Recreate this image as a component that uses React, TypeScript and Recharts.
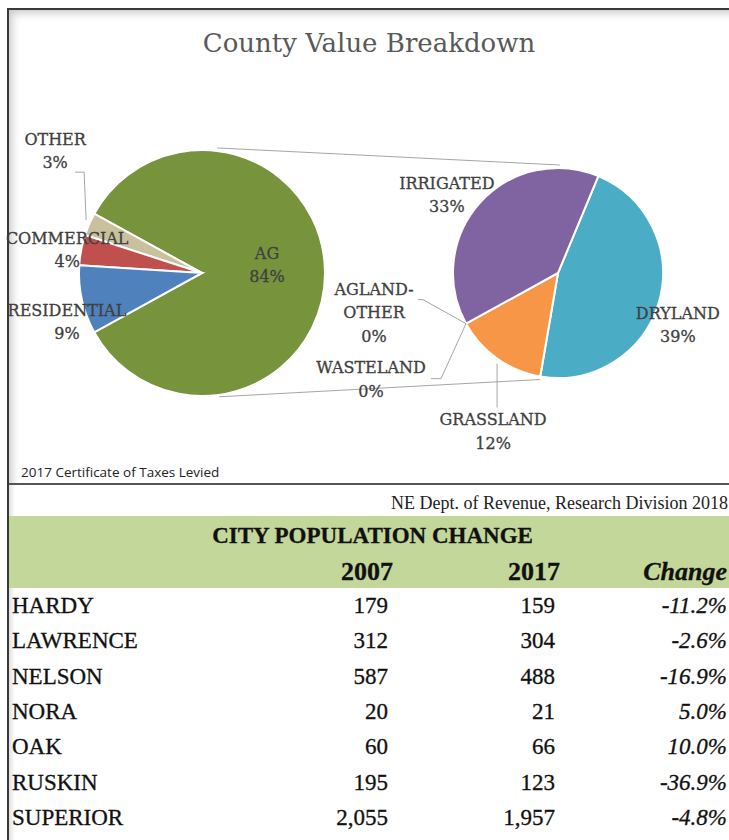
import React from "react";
import { PieChart, Pie, Cell } from "recharts";

// County value breakdown (percent of total value)
const mainNames = ["AG", "OTHER", "COMMERCIAL", "RESIDENTIAL"];
const mainValues = [84, 3, 4, 9];
const mainColors = ["#77933c", "#c9c19d", "#c0504d", "#4f81bd"];

// AG split (percent of total value)
const agNames = ["DRYLAND", "GRASSLAND", "WASTELAND", "AGLAND-OTHER", "IRRIGATED"];
const agValues = [39, 12, 0, 0, 33];
const agColors = ["#4bacc6", "#f79646", "#9bbb59", "#2c4d75", "#8064a2"];

// City population change table
const cities = ["HARDY", "LAWRENCE", "NELSON", "NORA", "OAK", "RUSKIN", "SUPERIOR"];
const pop2007 = [179, 312, 587, 20, 60, 195, 2055];
const pop2017 = [159, 304, 488, 21, 66, 123, 1957];
const changePct = [-11.2, -2.6, -16.9, 5.0, 10.0, -36.9, -4.8];

const mainData = mainNames.map((name, i) => ({ name, value: mainValues[i] }));
const agData = agNames.map((name, i) => ({ name, value: agValues[i] }));

const PIE1 = { cx: 202, cy: 273, r: 123 };
const PIE2 = { cx: 558, cy: 273, r: 105 };
const LABEL_FONT = "'DejaVu Serif', serif";
const TABLE_FONT = "'Liberation Serif', serif";
const RAD = Math.PI / 180;

// label block offset from the slice's outer mid point, plus optional leader line
const labelPlacement: Record<string, { dx: number; dy: number; leader?: number[][] }> = {
  AG: { dx: -58, dy: -8 },
  OTHER: { dx: -34, dy: -73, leader: [[-3, -4], [-5, -52], [-14, -52]] },
  COMMERCIAL: { dx: -14, dy: 0 },
  RESIDENTIAL: { dx: -15, dy: 22 },
  DRYLAND: { dx: 19, dy: 23 },
  GRASSLAND: { dx: -4, dy: 73, leader: [[0, 5], [0, 49]] },
  WASTELAND: { dx: -95, dy: 56, leader: [[0, 0], [-25, 55], [-35, 55]] },
  "AGLAND-OTHER": { dx: -92, dy: -11, leader: [[0, 0], [-43, -24], [-48, -24]] },
  IRRIGATED: { dx: -33, dy: -8 },
};

const polar = (cx: number, cy: number, r: number, angle: number) => ({
  x: cx + r * Math.cos(-angle * RAD),
  y: cy + r * Math.sin(-angle * RAD),
});

function renderLabel(props: any) {
  const { cx, cy, midAngle, outerRadius, payload, value } = props;
  const name: string = payload?.name ?? props.name;
  const place = labelPlacement[name];
  if (!place) return null;
  const p = polar(cx, cy, outerRadius, midAngle);
  const lines = name.includes("-") ? [name.split("-")[0] + "-", name.split("-")[1]] : [name];
  lines.push(`${value}%`);
  const lh = 23.5;
  const x = p.x + place.dx;
  const y0 = p.y + place.dy - ((lines.length - 1) * lh) / 2;
  return (
    <g key={`lbl-${name}`}>
      {place.leader && (
        <polyline
          points={place.leader.map(([dx, dy]) => `${p.x + dx},${p.y + dy}`).join(" ")}
          fill="none"
          stroke="#a6a6a6"
          strokeWidth={1}
        />
      )}
      <text
        x={x}
        y={y0}
        textAnchor="middle"
        fill="#404040"
        stroke="#404040"
        strokeWidth={0.3}
        fontFamily={LABEL_FONT}
        fontSize={16}
      >
        {lines.map((t, i) => (
          <tspan key={i} x={x} y={y0 + i * lh} dominantBaseline="central">
            {t}
          </tspan>
        ))}
      </text>
    </g>
  );
}

function Connectors() {
  const a1 = polar(PIE1.cx, PIE1.cy, PIE1.r + 3, 83);
  const a2 = polar(PIE2.cx, PIE2.cy, PIE2.r + 3, 89);
  const b1 = polar(PIE1.cx, PIE1.cy, PIE1.r + 2, -82);
  const b2 = polar(PIE2.cx, PIE2.cy, PIE2.r + 3, -99.5);
  return (
    <g>
      <line x1={a1.x} y1={a1.y} x2={a2.x} y2={a2.y} stroke="#a6a6a6" strokeWidth={1} />
      <line x1={b1.x} y1={b1.y} x2={b2.x} y2={b2.y} stroke="#a6a6a6" strokeWidth={1} />
    </g>
  );
}

const fmt = (n: number) => n.toLocaleString("en-US");
const fmtPct = (n: number) => `${n.toFixed(1)}%`;

export default function App() {
  const rowTop = 588;
  const rowH = 35.4;
  const cellStyle = (center: number, extra: React.CSSProperties): React.CSSProperties => ({
    position: "absolute",
    top: center - 15,
    height: 30,
    lineHeight: "30px",
    fontFamily: TABLE_FONT,
    fontSize: 23,
    color: "#111",
    whiteSpace: "nowrap",
    WebkitTextStroke: "0.3px #111",
    ...extra,
  });

  return (
    <div
      style={{
        position: "absolute",
        left: 0,
        top: 0,
        width: 729,
        height: 840,
        background: "#fff",
        overflow: "hidden",
      }}
    >
      {/* chart panel frame */}
      <div
        style={{
          position: "absolute",
          left: 9,
          top: 8,
          width: 740,
          height: 477,
          borderTop: "2px solid #3a3a3a",
          borderBottom: "2px solid #555",
          boxSizing: "border-box",
          boxShadow: "inset 6px 6px 8px -3px rgba(0,0,0,0.22)",
        }}
      />
      <div style={{ position: "absolute", left: 7, top: 8, width: 2, height: 832, background: "#3a3a3a" }} />
      <div
        style={{
          position: "absolute",
          left: 9,
          top: 485,
          width: 6,
          height: 355,
          background: "linear-gradient(to right, rgba(0,0,0,0.12), rgba(0,0,0,0))",
        }}
      />

      {/* chart title */}
      <div
        style={{
          position: "absolute",
          left: 9,
          width: 720,
          top: 26,
          textAlign: "center",
          fontFamily: LABEL_FONT,
          fontSize: 26,
          lineHeight: "34px",
          color: "#595959",
        }}
      >
        County Value Breakdown
      </div>

      <div style={{ position: "absolute", left: 0, top: 0 }}>
        <PieChart width={729} height={483} margin={{ top: 0, right: 0, bottom: 0, left: 0 }}>
          <Connectors />
          <Pie
            data={mainData}
            dataKey="value"
            nameKey="name"
            cx={PIE1.cx}
            cy={PIE1.cy}
            outerRadius={PIE1.r}
            startAngle={-151.2}
            endAngle={208.8}
            stroke="#fff"
            strokeWidth={2}
            label={renderLabel}
            labelLine={false}
            isAnimationActive={false}
          >
            {mainData.map((d, i) => (
              <Cell key={d.name} fill={mainColors[i]} />
            ))}
          </Pie>
          <Pie
            data={agData}
            dataKey="value"
            nameKey="name"
            cx={PIE2.cx}
            cy={PIE2.cy}
            outerRadius={PIE2.r}
            startAngle={67.4}
            endAngle={-292.6}
            stroke="#fff"
            strokeWidth={2}
            label={renderLabel}
            labelLine={false}
            isAnimationActive={false}
          >
            {agData.map((d, i) => (
              <Cell key={d.name} fill={agColors[i]} />
            ))}
          </Pie>
        </PieChart>
      </div>

      <div
        style={{
          position: "absolute",
          left: 21,
          top: 462,
          lineHeight: "20px",
          fontFamily: "'Open Sans', sans-serif",
          fontSize: 13.5,
          color: "#222",
        }}
      >
        2017 Certificate of Taxes Levied
      </div>

      {/* table */}
      <div
        style={{
          position: "absolute",
          right: 1,
          top: 492,
          lineHeight: "22px",
          fontFamily: TABLE_FONT,
          fontSize: 18,
          color: "#222",
          whiteSpace: "nowrap",
        }}
      >
        NE Dept. of Revenue, Research Division 2018
      </div>
      <div style={{ position: "absolute", left: 9, top: 516, width: 730, height: 72, background: "#c4d79b" }} />
      <div
        style={cellStyle(536, {
          left: 9,
          width: 727,
          textAlign: "center",
          fontWeight: "bold",
          fontSize: 23,
        })}
      >
        CITY POPULATION CHANGE
      </div>
      <div style={cellStyle(572, { right: 336, fontWeight: "bold", fontSize: 26 })}>2007</div>
      <div style={cellStyle(572, { right: 169, fontWeight: "bold", fontSize: 26 })}>2017</div>
      <div style={cellStyle(572, { right: 2, fontWeight: "bold", fontStyle: "italic", fontSize: 26 })}>
        Change
      </div>

      {cities.map((c, i) => {
        const center = rowTop + rowH * i + rowH / 2;
        return (
          <React.Fragment key={c}>
            <div style={cellStyle(center, { left: 12 })}>{c}</div>
            <div style={cellStyle(center, { right: 341 })}>{fmt(pop2007[i])}</div>
            <div style={cellStyle(center, { right: 174 })}>{fmt(pop2017[i])}</div>
            <div style={cellStyle(center, { right: 2, fontStyle: "italic" })}>{fmtPct(changePct[i])}</div>
          </React.Fragment>
        );
      })}
    </div>
  );
}
